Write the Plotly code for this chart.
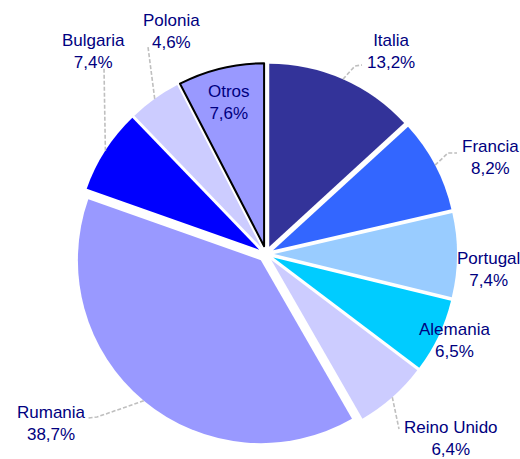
import math
import plotly.graph_objects as go

# ---- data ----
paises = ["Italia", "Francia", "Portugal", "Alemania", "Reino Unido",
          "Rumania", "Bulgaria", "Polonia", "Otros"]
valores = [13.2, 8.2, 7.4, 6.5, 6.4, 38.7, 7.4, 4.6, 7.6]
colores = ["#333399", "#3366FF", "#99CCFF", "#00CCFF", "#CCCCFF",
           "#9999FF", "#0000FF", "#CCCCFF", "#9999FF"]

# ---- layout (pixels in the 520x459 window) ----
W, H = 520, 459
CX, CY = 266, 254          # pie centre
BOX = 382                  # pie domain box size
PULL = 0.044
R = BOX / 2 / (1 + PULL)   # plotly pie radius
TXT = "#000080"

# label centres (px) and leader-line bends (px)
label_pos = {
    "Italia": (391, 51), "Francia": (490, 158), "Portugal": (488, 269),
    "Alemania": (454, 340), "Reino Unido": (451, 438), "Rumania": (51, 423),
    "Bulgaria": (93, 51), "Polonia": (171, 31), "Otros": (229, 102),
}
leader = {
    "Italia": [(355, 66), (362, 65)],
    "Francia": [(448, 153), (457, 153)],
    "Reino Unido": [(399, 429)],
    "Rumania": [(97, 417), (88, 418)],
    "Bulgaria": [(104, 68)],
    "Polonia": [(148, 47)],
}


def px(x, y):
    return x / W, 1 - y / H


x0, y1 = px(CX - BOX / 2, CY + BOX / 2)
x1, y0 = px(CX + BOX / 2, CY - BOX / 2)

fig = go.Figure(go.Pie(
    labels=paises, values=valores, sort=False, direction="clockwise",
    rotation=0, textinfo="none", hoverinfo="label+percent",
    pull=[PULL] * len(valores),
    marker=dict(colors=colores,
                line=dict(color=["white"] * 8 + ["black"],
                          width=[0] * 8 + [2])),
    domain=dict(x=[x0, x1], y=[y1, y0]),
    showlegend=False,
))

total = sum(valores)
cum = 0.0
for name, v in zip(paises, valores):
    mid = (cum + v / 2) / total * 2 * math.pi
    cum += v
    rr = R * (1 + PULL)
    sx, sy = CX + rr * math.sin(mid), CY - rr * math.cos(mid)
    if name in leader:
        pts = [(sx, sy)] + leader[name]
        path = "M " + " L ".join(f"{px(a, b)[0]:.5f},{px(a, b)[1]:.5f}" for a, b in pts)
        fig.add_shape(type="path", path=path, xref="paper", yref="paper",
                      line=dict(color="#BFBFBF", width=1.6, dash="4px,2px"))
    lx, ly = label_pos[name]
    pct = f"{v:.1f}".replace(".", ",") + "%"
    ax, ay = px(lx, ly)
    fig.add_annotation(x=ax, y=ay, xref="paper", yref="paper",
                       text=f"{name}<br>{pct}", showarrow=False,
                       xanchor="center", yanchor="middle",
                       font=dict(family="Liberation Sans, Arial", size=17, color=TXT))

fig.update_layout(width=W, height=H, margin=dict(l=0, r=0, t=0, b=0),
                  paper_bgcolor="white", plot_bgcolor="white")
fig.write_html("out.html", config={"displayModeBar": False},
               post_script="document.body.style.margin='0';"
                           "document.body.style.overflow='hidden';")
